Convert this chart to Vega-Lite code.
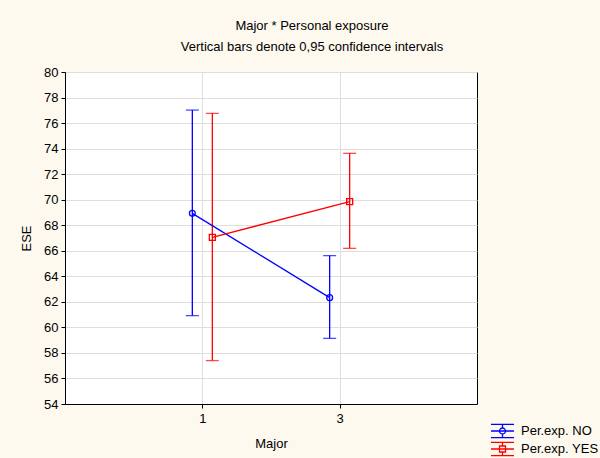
{
  "$schema": "https://vega.github.io/schema/vega-lite/v6.json",
  "autosize": "none",
  "width": 412,
  "height": 332,
  "padding": {"left": 65, "top": 72, "right": 123, "bottom": 54},
  "background": "#fdf9ef",
  "title": {
    "text": "Major * Personal exposure",
    "subtitle": "Vertical bars denote 0,95 confidence intervals",
    "anchor": "middle",
    "frame": "group",
    "dx": 41,
    "offset": 12,
    "font": "Liberation Sans",
    "fontSize": 13,
    "fontWeight": "normal",
    "color": "#000000",
    "subtitleFont": "Liberation Sans",
    "subtitleFontSize": 13,
    "subtitleColor": "#000000",
    "subtitlePadding": 8
  },
  "config": {
    "view": {"stroke": "#000000", "strokeWidth": 1, "fill": "#ffffff"},
    "font": "Liberation Sans",
    "axis": {
      "labelFont": "Liberation Sans",
      "labelFontSize": 13,
      "labelColor": "#000000",
      "titleFont": "Liberation Sans",
      "titleFontSize": 13,
      "titleFontWeight": "normal",
      "titleColor": "#000000",
      "domainColor": "#000000",
      "tickColor": "#000000",
      "gridColor": "#dedede",
      "tickSize": 4,
      "labelOverlap": false
    },
    "axisY": {"tickCount": 30}
  },
  "data": {
    "values": [
      {"Major": "1", "Exp": "Per.exp. NO", "mean": 68.93, "lo": 60.92, "hi": 77.02},
      {"Major": "3", "Exp": "Per.exp. NO", "mean": 62.33, "lo": 59.14, "hi": 65.62},
      {"Major": "1", "Exp": "Per.exp. YES", "mean": 67.05, "lo": 57.4, "hi": 76.76},
      {"Major": "3", "Exp": "Per.exp. YES", "mean": 69.85, "lo": 66.19, "hi": 73.63}
    ]
  },
  "encoding": {
    "x": {
      "field": "Major",
      "type": "ordinal",
      "scale": {"type": "point", "padding": 1},
      "axis": {"title": "Major", "labelAngle": 0, "grid": true, "titlePadding": 12, "labelPadding": 4}
    },
    "xOffset": {"field": "Exp", "type": "nominal", "scale": {"type": "point", "padding": 0, "range": [-10, 10]}},
    "color": {
      "field": "Exp",
      "type": "nominal",
      "scale": {"domain": ["Per.exp. NO", "Per.exp. YES"], "range": ["#0000ff", "#ff0000"]},
      "legend": {
        "title": null,
        "orient": "none",
        "legendX": 425,
        "legendY": 350,
        "labelFont": "Liberation Sans",
        "labelFontSize": 13,
        "labelColor": "#000000",
        "symbolSize": 529,
        "symbolStrokeWidth": 1.3,
        "symbolFillColor": "transparent",
        "symbolOffset": 0,
        "clipHeight": 18,
        "rowPadding": 0,
        "labelOffset": 6,
        "encode": {
          "symbols": {
            "update": {
              "fill": {"value": "transparent"},
              "fillOpacity": {"value": 0},
              "shape": {"signal": "datum.value == 'Per.exp. NO' ? 'M-1,-0.57H1M-1,0H1M-1,0.57H1M0,-0.57V-0.26M0,0.26V0.57M0.26,0A0.26,0.26 0 1,1 -0.26,0A0.26,0.26 0 1,1 0.26,0' : 'M-1,-0.57H1M-1,0H1M-1,0.57H1M0,-0.57V-0.26M0,0.26V0.57M-0.26,-0.26H0.26V0.26H-0.26Z'"}
            }
          }
        }
      }
    }
  },
  "layer": [
    {
      "mark": {"type": "rule", "strokeWidth": 1.3},
      "encoding": {
        "y": {
          "field": "lo",
          "type": "quantitative",
          "scale": {"domain": [54, 80], "nice": false, "zero": false},
          "axis": {"title": "ESE", "tickCount": 30, "values": [54, 56, 58, 60, 62, 64, 66, 68, 70, 72, 74, 76, 78, 80], "titlePadding": 10, "labelPadding": 3}
        },
        "y2": {"field": "hi"}
      }
    },
    {
      "mark": {"type": "tick", "size": 13, "thickness": 1.3, "orient": "horizontal"},
      "encoding": {"y": {"field": "lo", "type": "quantitative"}}
    },
    {
      "mark": {"type": "tick", "size": 13, "thickness": 1.3, "orient": "horizontal"},
      "encoding": {"y": {"field": "hi", "type": "quantitative"}}
    },
    {
      "mark": {"type": "line", "strokeWidth": 1.3},
      "encoding": {"y": {"field": "mean", "type": "quantitative"}, "detail": {"field": "Exp"}}
    },
    {
      "transform": [{"filter": "datum.Exp == 'Per.exp. NO'"}],
      "mark": {"type": "point", "shape": "circle", "filled": false, "strokeWidth": 1.3, "size": 34, "opacity": 1},
      "encoding": {"y": {"field": "mean", "type": "quantitative"}}
    },
    {
      "transform": [{"filter": "datum.Exp == 'Per.exp. YES'"}],
      "mark": {"type": "point", "shape": "square", "filled": false, "strokeWidth": 1.3, "size": 36, "opacity": 1},
      "encoding": {"y": {"field": "mean", "type": "quantitative"}}
    }
  ]
}
